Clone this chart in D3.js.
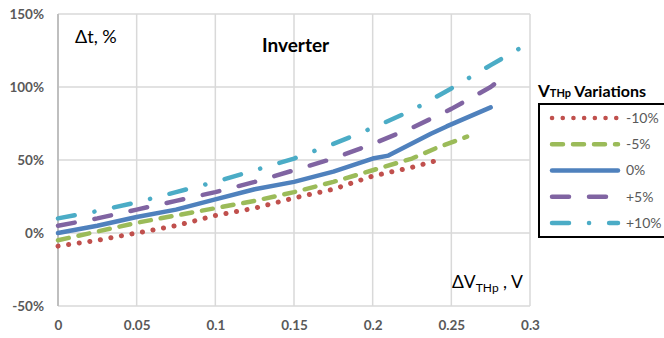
<!DOCTYPE html>
<html>
<head>
<meta charset="utf-8">
<script src="https://cdn.jsdelivr.net/npm/d3@7"></script>
<style>
  body { margin: 0; background: #fff; }
  svg { display: block; font-family: Lato, "Open Sans", sans-serif; }
</style>
</head>
<body>
<svg id="chart" width="664" height="338"></svg>
<script>
// series (x in V, y in %)
const seriesNames = ['-10%', '-5%', '0%', '+5%', '+10%'];
const xMinus10 = [0, 0.025, 0.05, 0.075, 0.1, 0.125, 0.15, 0.175, 0.2, 0.225, 0.242];
const yMinus10 = [-9, -5, 0, 5, 12, 17, 24, 30, 39, 45, 50];
const xMinus5 = [0, 0.025, 0.05, 0.075, 0.1, 0.125, 0.15, 0.175, 0.2, 0.225, 0.24, 0.26];
const yMinus5 = [-5, 1, 7, 12, 17, 22, 28, 35, 43, 51, 58, 66];
const xNominal = [0, 0.025, 0.05, 0.075, 0.1, 0.125, 0.15, 0.175, 0.2, 0.21, 0.237, 0.247, 0.275];
const yNominal = [0, 5, 11, 16, 23, 30, 35, 42, 51, 53, 68, 73, 86];
const xPlus5 = [0, 0.025, 0.05, 0.075, 0.1, 0.125, 0.15, 0.175, 0.2, 0.225, 0.25, 0.275, 0.287];
const yPlus5 = [5, 10, 16, 22, 28, 35, 43, 51, 61, 72, 85, 100, 110];
const xPlus10 = [0, 0.025, 0.05, 0.075, 0.1, 0.125, 0.15, 0.175, 0.2, 0.225, 0.25, 0.275, 0.296];
const yPlus10 = [10, 15, 21, 28, 35, 43, 51, 61, 72, 84, 99, 115, 128];
const xTicks = [0, 0.05, 0.1, 0.15, 0.2, 0.25, 0.3];
const yTicks = [-50, 0, 50, 100, 150];

const colors = ['#C0504D', '#9BBB59', '#4F81BD', '#8064A2', '#4BACC6'];
const dashes = ['0.1 10.6', '11 10', null, '17 20', '17 20 0.1 20'];
const xs = [xMinus10, xMinus5, xNominal, xPlus5, xPlus10];
const ys = [yMinus10, yMinus5, yNominal, yPlus5, yPlus10];

const series = seriesNames.map((name, i) => ({
  name,
  color: colors[i],
  dash: dashes[i],
  points: xs[i].map((x, j) => ({ x, y: ys[i][j] }))
}));

const svg = d3.select('#chart');
const plot = { left: 58, right: 530, top: 14, bottom: 306 };

const x = d3.scaleLinear().domain([0, 0.3]).range([plot.left, plot.right]);
const y = d3.scaleLinear().domain([-50, 150]).range([plot.bottom, plot.top]);

// gridlines
svg.append('g')
  .selectAll('line')
  .data(xTicks.slice(1))
  .join('line')
  .attr('x1', d => x(d)).attr('x2', d => x(d))
  .attr('y1', plot.top).attr('y2', plot.bottom)
  .attr('stroke', '#D9D9D9').attr('stroke-width', 1.5);

svg.append('g')
  .selectAll('line')
  .data(yTicks)
  .join('line')
  .attr('x1', plot.left).attr('x2', plot.right)
  .attr('y1', d => y(d)).attr('y2', d => y(d))
  .attr('stroke', '#D9D9D9').attr('stroke-width', 1.5);

// left axis line
svg.append('line')
  .attr('x1', plot.left).attr('x2', plot.left)
  .attr('y1', plot.top).attr('y2', plot.bottom)
  .attr('stroke', '#BFBFBF').attr('stroke-width', 2);

// tick labels
const yAxis = d3.axisLeft(y).tickValues(yTicks).tickSize(0).tickPadding(14)
  .tickFormat(d => d + '%');
svg.append('g')
  .attr('transform', `translate(${plot.left},0)`)
  .call(yAxis)
  .call(g => g.select('.domain').remove())
  .selectAll('text')
  .attr('fill', '#595959').attr('font-size', 13.5).attr('font-weight', 'bold')
  .attr('font-family', 'Lato, sans-serif');

const xAxis = d3.axisBottom(x).tickValues(xTicks).tickSize(0).tickPadding(14)
  .tickFormat(d => d === 0 ? '0' : String(d));
svg.append('g')
  .attr('transform', `translate(0,${plot.bottom})`)
  .call(xAxis)
  .call(g => g.select('.domain').remove())
  .selectAll('text')
  .attr('fill', '#595959').attr('font-size', 13.5).attr('font-weight', 'bold')
  .attr('font-family', 'Lato, sans-serif');

// lines
const line = d3.line().x(d => x(d.x)).y(d => y(d.y));

svg.append('g')
  .selectAll('path')
  .data(series)
  .join('path')
  .attr('d', d => line(d.points))
  .attr('fill', 'none')
  .attr('stroke', d => d.color)
  .attr('stroke-width', d => d.name === '-10%' ? 5 : 4.5)
  .attr('stroke-linecap', 'round')
  .attr('stroke-linejoin', 'round')
  .attr('stroke-dasharray', d => d.dash);

// annotations
svg.append('text')
  .attr('x', 75).attr('y', 43)
  .attr('font-size', 18).attr('fill', '#000')
  .text('Δt, %');

svg.append('text')
  .attr('x', 262).attr('y', 52)
  .attr('font-size', 19).attr('font-weight', 'bold').attr('fill', '#000')
  .text('Inverter');

const xl = svg.append('text')
  .attr('x', 452).attr('y', 288)
  .attr('font-size', 17.5).attr('fill', '#000');
xl.append('tspan').text('ΔV');
xl.append('tspan').attr('font-size', 12).attr('dy', 4).text('THp');
xl.append('tspan').attr('dy', -4).text(' , V');

// legend
const lt = svg.append('text')
  .attr('x', 538).attr('y', 97)
  .attr('font-weight', 'bold').attr('fill', '#000');
lt.append('tspan').attr('font-size', 17).text('V');
lt.append('tspan').attr('font-size', 11).text('THp');
lt.append('tspan').attr('font-size', 16).text(' Variations');

svg.append('rect')
  .attr('x', 539).attr('y', 104)
  .attr('width', 140).attr('height', 133)
  .attr('fill', '#fff').attr('stroke', '#000').attr('stroke-width', 2);

const rowY = d3.scalePoint().domain(seriesNames).range([118, 223]);

const rows = svg.append('g')
  .selectAll('g')
  .data(series)
  .join('g')
  .attr('transform', d => `translate(0,${rowY(d.name)})`);

rows.append('line')
  .attr('x1', 552).attr('x2', 618)
  .attr('stroke', d => d.color)
  .attr('stroke-width', 4.5)
  .attr('stroke-linecap', 'round')
  .attr('stroke-dasharray', d => d.dash);

rows.append('text')
  .attr('x', 626).attr('dy', '0.35em')
  .attr('font-size', 14).attr('fill', '#595959')
  .text(d => d.name);
</script>
</body>
</html>
